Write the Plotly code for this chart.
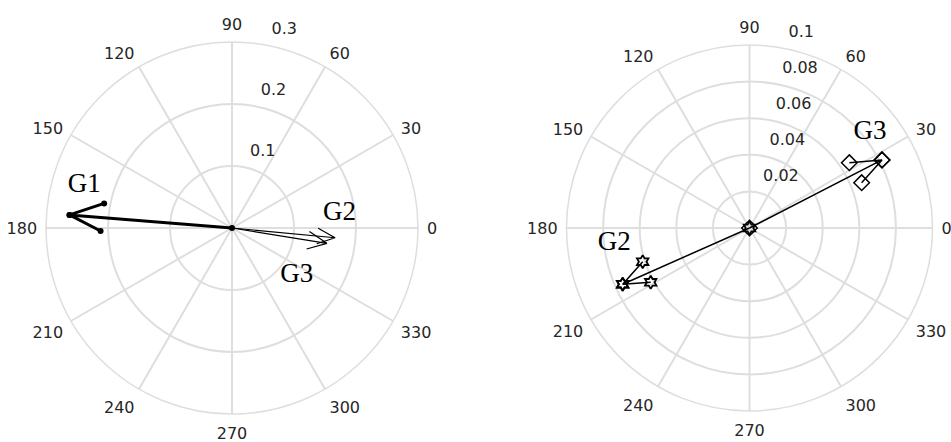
import plotly.graph_objects as go

# ---------------- data ----------------
angle_ticks = [0, 30, 60, 90, 120, 150, 180, 210, 240, 270, 300, 330]

# left plot: compass arrows (origin, tip, barb, tip, barb)
left_rticks = [0.1, 0.2, 0.3]
left_g1_r = [0, 0.263, 0.210, 0.263, 0.212]
left_g1_theta = [175.4, 175.4, 169.1, 175.4, 181.3]
left_g2_r = [0, 0.167, 0.139, 0.167, 0.139]
left_g2_theta = [354.6, 354.6, 359.8, 354.6, 349.5]
left_g3_r = [0, 0.155, 0.125, 0.155, 0.125]
left_g3_theta = [350.8, 350.8, 357.4, 350.8, 344.3]

# right plot
right_rticks = [0.02, 0.04, 0.06, 0.08, 0.1]
right_g2_r = [0, 0.0758, 0.0612, 0.0758, 0.0616]
right_g2_theta = [203.9, 203.9, 197.5, 203.9, 208.8]
right_g3_r = [0, 0.0814, 0.0652, 0.0814, 0.0661]
right_g3_theta = [27.2, 27.2, 33.2, 27.2, 22.0]

# group labels
left_labels = ["G1", "G2", "G3"]
right_labels = ["G3", "G2"]

# ---------------- figure ----------------
GRID = "#dedede"
TXT = "#262626"
TICKFONT = dict(family="DejaVu Sans, Arial", size=16, color=TXT)
LABELFONT = dict(family="Liberation Serif, Times New Roman", size=27, color="black")

fig = go.Figure()

# left arrows
fig.add_trace(go.Scatterpolar(r=left_g1_r, theta=left_g1_theta, mode="lines+markers",
                              line=dict(color="black", width=3),
                              marker=dict(symbol="circle", size=6, color="black"),
                              subplot="polar", showlegend=False))
fig.add_trace(go.Scatterpolar(r=left_g2_r, theta=left_g2_theta, mode="lines",
                              line=dict(color="black", width=1.2),
                              subplot="polar", showlegend=False))
fig.add_trace(go.Scatterpolar(r=left_g3_r, theta=left_g3_theta, mode="lines",
                              line=dict(color="black", width=1.2),
                              subplot="polar", showlegend=False))

# right arrows
fig.add_trace(go.Scatterpolar(r=right_g2_r, theta=right_g2_theta, mode="lines+markers",
                              line=dict(color="black", width=1.5),
                              marker=dict(symbol="hexagram-open", size=10,
                                          line=dict(color="black", width=1.8)),
                              subplot="polar2", showlegend=False))
fig.add_trace(go.Scatterpolar(r=right_g3_r, theta=right_g3_theta, mode="lines+markers",
                              line=dict(color="black", width=1.5),
                              marker=dict(symbol="diamond-open", size=12,
                                          line=dict(color="black", width=1.5)),
                              subplot="polar2", showlegend=False))

# radial tick labels (placed at 80 degrees like the source)
for sub, ticks in (("polar", left_rticks), ("polar2", right_rticks)):
    fig.add_trace(go.Scatterpolar(r=ticks, theta=[80] * len(ticks), mode="markers+text",
                                  text=[f"{v:g}" for v in ticks], textposition="top right",
                                  marker=dict(size=10, opacity=0),
                                  textfont=TICKFONT, cliponaxis=False, hoverinfo="skip",
                                  subplot=sub, showlegend=False))

# group label texts
fig.add_trace(go.Scatterpolar(r=[0.248, 0.175, 0.129], theta=[163.8, 7.8, 324],
                              mode="text", text=left_labels, textfont=LABELFONT,
                              cliponaxis=False, hoverinfo="skip",
                              subplot="polar", showlegend=False))
fig.add_trace(go.Scatterpolar(r=[0.0843, 0.0744], theta=[38.6, 186.5],
                              mode="text", text=right_labels, textfont=LABELFONT,
                              cliponaxis=False, hoverinfo="skip",
                              subplot="polar2", showlegend=False))


def polar_layout(domain_x, domain_y, rmax, rticks):
    return dict(
        domain=dict(x=domain_x, y=domain_y),
        bgcolor="white",
        radialaxis=dict(range=[0, rmax], tickvals=rticks, showticklabels=False,
                        ticks="", showline=False, gridcolor=GRID, gridwidth=1.5),
        angularaxis=dict(tickvals=angle_ticks, ticktext=[str(a) for a in angle_ticks],
                         direction="counterclockwise", rotation=0,
                         gridcolor=GRID, gridwidth=1.5, showline=True,
                         linecolor=GRID, linewidth=1.5,
                         ticks="outside", ticklen=5, tickcolor="rgba(0,0,0,0)",
                         tickfont=TICKFONT),
    )


W, H = 951, 442
# left: centre (232,228) radius 186 ; right: centre (749.5,228) radius 183
fig.update_layout(
    width=W, height=H,
    margin=dict(l=0, r=0, t=0, b=0),
    paper_bgcolor="white",
    showlegend=False,
    polar=polar_layout([(232 - 186) / W, (232 + 186) / W],
                       [(H - 228 - 186) / H, (H - 228 + 186) / H], 0.3, left_rticks),
    polar2=polar_layout([(749.5 - 183) / W, (749.5 + 183) / W],
                        [(H - 228 - 183) / H, (H - 228 + 183) / H], 0.1, right_rticks),
)

fig.write_html("out.html")
